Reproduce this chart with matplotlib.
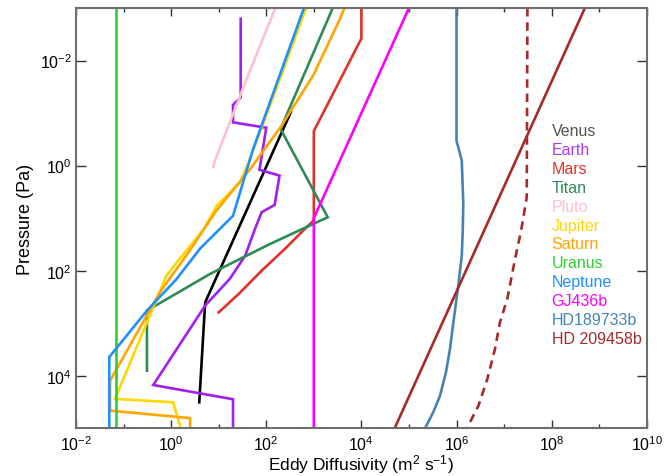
import matplotlib
matplotlib.use("Agg")
import matplotlib.pyplot as plt
from matplotlib.ticker import FixedLocator, NullLocator, LogFormatterMathtext, NullFormatter

plt.rcParams["font.family"] = ["Liberation Sans", "DejaVu Sans"]
plt.rcParams["mathtext.fontset"] = "custom"
plt.rcParams["mathtext.rm"] = "Liberation Sans"
plt.rcParams["mathtext.it"] = "Liberation Sans"
plt.rcParams["mathtext.default"] = "regular"

# Eddy diffusivity profiles: K in m^2/s, P in Pa
venus_K = [330, 5.2, 4.9, 3.9]
venus_P = [0.095, 400, 960, 3.2e4]

earth_K = [29, 29, 20, 20, 100, 72, 190, 150, 80, 58, 36, 17, 5.2, 0.42, 20, 20]
earth_P = [1.6e-3, 0.05, 0.07, 0.15, 0.19, 1.2, 1.55, 5.6, 7.7, 16, 52, 144, 460, 1.5e4, 2.8e4, 1e5]

mars_K = [1e4, 1e4, 1e3, 1e3, 650, 250, 80, 26, 10]
mars_P = [1e-3, 3.8e-3, 0.22, 11, 16, 38, 100, 280, 620]

titan_K = [2500, 200, 1960, 120, 6.6, 0.31, 0.31]
titan_P = [1e-3, 0.2, 9.6, 31, 115, 575, 8000]

pluto_K = [155, 39, 8.1, 7.7]
pluto_P = [1e-3, 0.022, 0.86, 1.07]

jupiter_K = [690, 195, 84, 43, 28, 9.1, 4.9, 1.5, 0.8, 0.066, 1.1, 1.6]
jupiter_P = [1e-3, 0.022, 0.17, 0.85, 2.1, 5.8, 16, 60, 124, 2.75e4, 3.2e4, 1e5]

saturn_K = [4400, 3560, 975, 204, 46, 8.8, 2.2, 0.58, 0.052, 0.052, 2.5, 2.5]
saturn_P = [1e-3, 1.6e-3, 0.019, 0.18, 1.16, 7.3, 48, 257, 1.24e4, 4.6e4, 6.4e4, 1e5]

uranus_K = [0.069, 0.069]
uranus_P = [1e-3, 1e5]

neptune_K = [620, 53, 20, 4.05, 1.3, 0.31, 0.05, 0.05]
neptune_P = [1e-3, 0.48, 9.0, 38, 144, 575, 4400, 1e5]

gj436b_K = [1e5, 1e3, 1e3]
gj436b_P = [1e-3, 10, 1e5]

hd189733b_K = [1.0e6, 1.0e6, 1.29e6, 1.39e6, 1.35e6, 1.29e6, 1.09e6, 8.6e5, 7.3e5, 6.0e5, 4.5e5, 3.26e5, 2.18e5]
hd189733b_P = [1e-3, 0.335, 0.8, 5.4, 18.5, 52, 193, 960, 3080, 8570, 2.4e4, 4.9e4, 1e5]

hd209458b_K = [5e8, 5e4]
hd209458b_P = [1e-3, 1e5]

hd209458b_alt_K = [3.1e7, 3.0e7, 2.25e7, 1.7e7, 1.17e7, 8.2e6, 6.45e6, 4.45e6, 2.9e6, 1.65e6]
hd209458b_alt_P = [1e-3, 4, 18.5, 60, 344, 960, 3080, 1.15e4, 3.7e4, 1e5]

names = ["Venus", "Earth", "Mars", "Titan", "Pluto", "Jupiter", "Saturn",
         "Uranus", "Neptune", "GJ436b", "HD189733b", "HD 209458b"]
line_colors = ["black", "#A020F0", "#E0322A", "#2E8B57", "#FFC0CB", "#FFD700",
               "#FFA500", "#32CD32", "#1E90FF", "#FF00FF", "#4682B4", "#A52A2A"]
text_colors = ["#555555", "#A63CF0", "#E0322A", "#2E8B57", "#FFC0CB", "#FFD700",
               "#FFA500", "#32CD32", "#1E90FF", "#FF00FF", "#4682B4", "#A52A2A"]

profiles = [(venus_K, venus_P), (earth_K, earth_P), (mars_K, mars_P),
            (titan_K, titan_P), (pluto_K, pluto_P), (jupiter_K, jupiter_P),
            (saturn_K, saturn_P), (uranus_K, uranus_P), (neptune_K, neptune_P),
            (gj436b_K, gj436b_P), (hd189733b_K, hd189733b_P),
            (hd209458b_K, hd209458b_P)]

fig = plt.figure(figsize=(6.64, 4.77), dpi=100)
ax = fig.add_axes([0.1145, 0.1, 0.8595, 0.8811])

lw = 1.9
for (K, P), c in zip(profiles, line_colors):
    ax.plot(K, P, color=c, lw=lw, solid_joinstyle="miter")
ax.plot(hd209458b_alt_K, hd209458b_alt_P, color=line_colors[-1], lw=lw,
        ls=(0, (3.2, 2.2)))

ax.set_xscale("log")
ax.set_yscale("log")
ax.set_xlim(1e-2, 1e10)
ax.set_ylim(1e5, 1e-3)

ax.xaxis.set_major_locator(FixedLocator([10.0 ** e for e in range(-2, 11, 2)]))
ax.xaxis.set_minor_locator(FixedLocator([10.0 ** e for e in range(-1, 10, 2)]))
ax.xaxis.set_major_formatter(LogFormatterMathtext())
ax.xaxis.set_minor_formatter(NullFormatter())
ax.yaxis.set_major_locator(FixedLocator([1e-2, 1e0, 1e2, 1e4]))
ax.yaxis.set_minor_locator(NullLocator())
ax.yaxis.set_major_formatter(LogFormatterMathtext())

ax.tick_params(which="both", direction="in", top=True, right=True,
               color="#333333", width=1.0, labelsize=11.5)
ax.tick_params(axis="x", which="major", length=5.7, pad=4.5)
ax.tick_params(axis="x", which="minor", length=2.8)
ax.tick_params(axis="y", which="major", length=7.5, pad=3)

for s in ax.spines.values():
    s.set_color("#6e6e6e")
    s.set_linewidth(1.5)

ax.set_xlabel("Eddy Diffusivity (m$^{2}$ s$^{-1}$)", fontsize=12.5, labelpad=-0.5)
ax.set_ylabel("Pressure (Pa)", fontsize=13, labelpad=4)

# label list drawn as colored text
x0, y0, dy = 0.8335, 0.6985, 0.04511
for i, (n, c) in enumerate(zip(names, text_colors)):
    ax.text(x0, y0 - i * dy, n, color=c, fontsize=11.5, transform=ax.transAxes,
            ha="left", va="baseline")

fig.savefig("out.png", dpi=100)
